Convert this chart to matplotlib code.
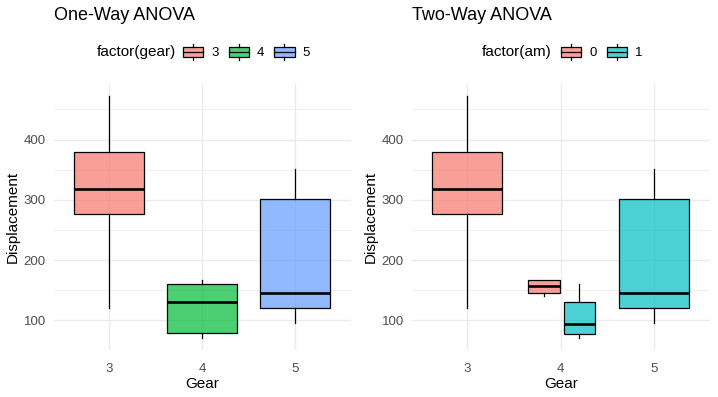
import matplotlib
matplotlib.use("Agg")
import matplotlib.pyplot as plt
from matplotlib.patches import Rectangle, Patch
from matplotlib.lines import Line2D
from matplotlib.legend_handler import HandlerBase
from matplotlib.ticker import MultipleLocator

plt.rcParams['font.family'] = ['Liberation Sans', 'DejaVu Sans']

# box stats: (low whisker, q1, median, q3, high whisker)
gears = ['3', '4', '5']
oneway_stats = {
    '3': (120.1, 275.8, 318.0, 380.0, 472.0),
    '4': (71.1, 78.9, 130.9, 160.0, 167.6),
    '5': (95.1, 120.3, 145.0, 301.0, 351.0),
}
am_levels = ['0', '1']
twoway_stats = {
    ('3', '0'): (120.1, 275.8, 318.0, 380.0, 472.0),
    ('4', '0'): (140.8, 145.2, 157.2, 167.6, 167.6),
    ('4', '1'): (71.1, 78.0, 93.5, 130.8, 160.0),
    ('5', '1'): (95.1, 120.3, 145.0, 301.0, 351.0),
}

gear_colors = ['#F8766D', '#00BA38', '#619CFF']
am_colors = ['#F8766D', '#00BFC4']
ALPHA = 0.7
GRID = '#EBEBEB'
TXT = '#4D4D4D'

W, H = 718, 397
fig = plt.figure(figsize=(W / 100, H / 100), dpi=100)


def px_axes(x0, y0, x1, y1):
    return fig.add_axes([x0 / W, 1 - y1 / H, (x1 - x0) / W, (y1 - y0) / H])


def stat_dict(s):
    lo, q1, med, q3, hi = s
    return dict(whislo=lo, q1=q1, med=med, q3=q3, whishi=hi, fliers=[])


def draw_boxes(ax, stats, positions, widths, colors):
    bp = ax.bxp([stat_dict(s) for s in stats], positions=positions, widths=widths,
                patch_artist=True, showcaps=False, showfliers=False,
                boxprops=dict(edgecolor='black', linewidth=0.9),
                whiskerprops=dict(color='black', linewidth=0.9),
                medianprops=dict(color='black', linewidth=1.9, solid_capstyle='butt'),
                zorder=3)
    for patch, c in zip(bp['boxes'], colors):
        patch.set_facecolor(matplotlib.colors.to_rgba(c, ALPHA))


def style_axes(ax, title):
    ax.set_xlim(0.4, 3.6)
    ax.set_xticks([1, 2, 3])
    ax.set_xticklabels(gears)
    ax.yaxis.set_major_locator(MultipleLocator(100))
    ax.yaxis.set_minor_locator(MultipleLocator(50))
    ax.set_ylim(51.05, 492.05)
    ax.grid(True, which='major', color=GRID, linewidth=1.0, zorder=0)
    ax.grid(True, which='minor', axis='y', color=GRID, linewidth=0.55, zorder=0)
    ax.set_axisbelow(True)
    for sp in ax.spines.values():
        sp.set_visible(False)
    ax.tick_params(which='both', length=0, labelsize=9.5, labelcolor=TXT)
    ax.tick_params(axis='y', pad=5.5)
    ax.tick_params(axis='x', pad=9)
    ax.set_xlabel('Gear', fontsize=11, labelpad=2)
    ax.set_ylabel('Displacement', fontsize=11, labelpad=3)
    x0 = ax.get_position().x0
    fig.text(x0, 1 - 16 / H, title, ha='left', va='center', fontsize=13)


class BoxKey(HandlerBase):
    def create_artists(self, legend, orig_handle, xdescent, ydescent, width, height, fontsize, trans):
        x0, y0 = -xdescent, -ydescent
        b0, b1 = y0 + 0.17 * height, y0 + 0.83 * height
        xm = x0 + width / 2
        rect = Rectangle((x0, b0), width, b1 - b0, facecolor=orig_handle.get_facecolor(),
                         edgecolor='black', linewidth=0.9, transform=trans)
        med = Line2D([x0, x0 + width], [(b0 + b1) / 2] * 2, color='black', linewidth=0.9, transform=trans)
        w1 = Line2D([xm, xm], [y0, b0], color='black', linewidth=0.9, transform=trans)
        w2 = Line2D([xm, xm], [b1, y0 + height], color='black', linewidth=0.9, transform=trans)
        return [rect, med, w1, w2]


def add_legend(ax, title, labels, colors, tx, kx):
    handles = [Patch(facecolor=matplotlib.colors.to_rgba(c, ALPHA)) for c in colors]
    ax.text(tx, 1.12, title, transform=ax.transAxes, ha='left', va='center', fontsize=11)
    ax.legend(handles, labels, loc='center left', bbox_to_anchor=(kx, 1.12), ncol=len(labels),
              frameon=False, fontsize=9.5, handlelength=1.55, handleheight=1.5,
              handletextpad=0.6, columnspacing=0.75, borderpad=0, borderaxespad=0,
              handler_map={Patch: BoxKey()})


# One-way panel
ax1 = px_axes(53.5, 84, 351, 350)
draw_boxes(ax1, [oneway_stats[g] for g in gears], [1, 2, 3], 0.75, gear_colors)
style_axes(ax1, 'One-Way ANOVA')
add_legend(ax1, 'factor(gear)', gears, gear_colors, 0.146, 0.435)

# Two-way panel (dodged by am)
ax2 = px_axes(411.5, 84, 710, 350)
offsets = {'4': {'0': -0.18, '1': 0.20}}
for (g, am), s in twoway_stats.items():
    gi = gears.index(g) + 1
    if g in offsets:
        pos, wid = gi + offsets[g][am], 0.34
    else:
        pos, wid = gi, 0.75
    draw_boxes(ax2, [s], [pos], wid, [am_colors[am_levels.index(am)]])
style_axes(ax2, 'Two-Way ANOVA')
add_legend(ax2, 'factor(am)', am_levels, am_colors, 0.235, 0.501)

fig.savefig('out.png', dpi=100)
